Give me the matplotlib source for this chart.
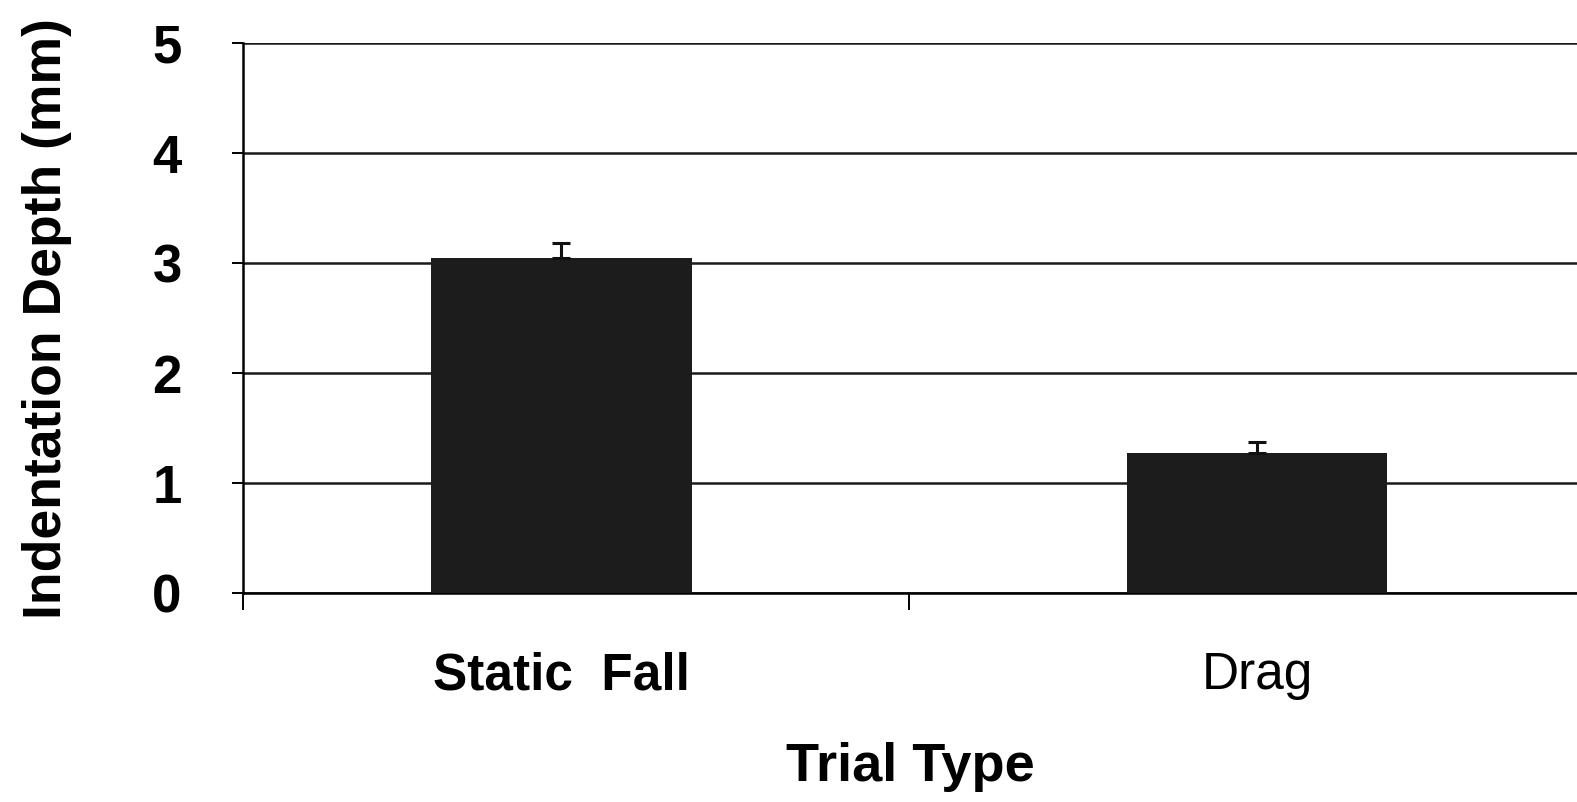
import matplotlib.pyplot as plt

# Data
trial_types = ['Static  Fall', 'Drag']
depth_mm = [3.05, 1.27]
depth_err = [0.13, 0.10]
y_ticks = [0, 1, 2, 3, 4, 5]

plt.rcParams['font.family'] = ['Liberation Sans', 'DejaVu Sans']

fig = plt.figure(figsize=(15.77, 8.02), dpi=100)
ax = fig.add_axes([0.154, 0.2606, 0.846, 0.6855])

x = list(range(len(trial_types)))
ax.bar(x, depth_mm, width=0.375, color='#1c1c1c', zorder=3)
ax.errorbar(x, depth_mm, yerr=[[0] * len(x), depth_err], fmt='none',
            ecolor='#111111', elinewidth=2.2, capsize=6.5, capthick=2.2, zorder=4)

# Limits
left = -0.458
ax.set_xlim(left, 1.46)
ax.set_ylim(0, 5)

# Gridlines
ax.set_yticks(y_ticks)
ax.yaxis.grid(True, color='#1a1a1a', linewidth=1.8)
ax.set_axisbelow(True)

# Spines
for s in ['top', 'right']:
    ax.spines[s].set_visible(False)
ax.spines['left'].set_linewidth(1.8)
ax.spines['bottom'].set_linewidth(1.8)

ax.tick_params(axis='y', length=8, width=1.4, pad=36, labelsize=38)
for lbl in ax.get_yticklabels():
    lbl.set_fontweight('bold')

# Category labels, ticks between categories
ax.set_xticks(x)
ax.set_xticklabels(trial_types, fontsize=37)
ax.get_xticklabels()[0].set_fontweight('bold')
ax.tick_params(axis='x', which='major', length=0, pad=42)
ax.set_xticks([left, (x[0] + x[1]) / 2], minor=True)
ax.tick_params(axis='x', which='minor', length=12, width=1.4)

ax.set_xlabel('Trial Type', fontsize=39, fontweight='bold', labelpad=30)
ax.set_ylabel('Indentation Depth (mm)', fontsize=38.5, fontweight='bold', labelpad=58)

fig.savefig('out.png', dpi=100)
